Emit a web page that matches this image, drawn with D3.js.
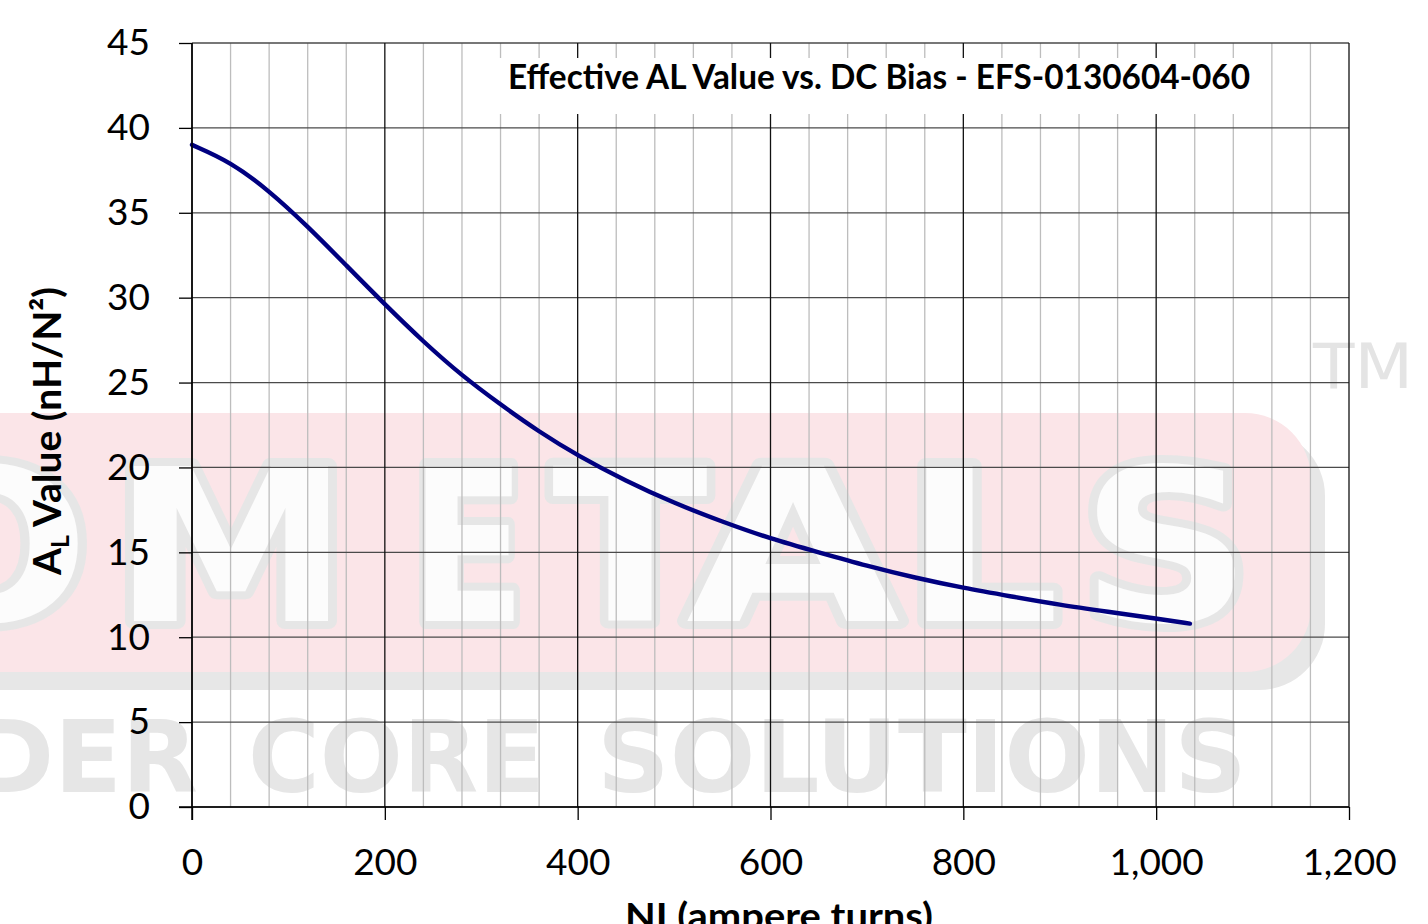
<!DOCTYPE html>
<html><head><meta charset="utf-8">
<script src="https://cdn.jsdelivr.net/npm/d3@7"></script>
<style>body{margin:0;background:#fff;overflow:hidden}</style>
</head><body><svg id="c" width="1428" height="924"></svg>
<script>
// ---- data ----
const niValues = [0, 40, 80, 120, 160, 200, 240, 280, 320, 360, 400, 450, 500, 550, 600, 650, 700, 750, 800, 850, 900, 950, 1000, 1035];
const alValues = [39.0, 38.0, 36.3, 34.2, 31.9, 29.6, 27.4, 25.4, 23.7, 22.1, 20.7, 19.2, 17.9, 16.8, 15.8, 15.0, 14.2, 13.5, 12.9, 12.4, 11.9, 11.5, 11.1, 10.8];
const xTickValues = [0, 200, 400, 600, 800, 1000, 1200];
const xMinorValues = d3.range(0, 1201, 40);
const yTickValues = [0, 5, 10, 15, 20, 25, 30, 35, 40, 45];
const titleText = "Effective AL Value vs. DC Bias - EFS-0130604-060";
const xLabelText = "NI (ampere turns)";
const yLabelMain = "A";
const yLabelSub = "L";
const yLabelRest = " Value (nH/N\u00B2)";
// watermark (background logo) pieces
const wmBigLetters = [
  {ch: "O", x0: -120, x1: 90},
  {ch: "M", x0: 112, x1: 350},
  {ch: "E", x0: 410, x1: 526},
  {ch: "T", x0: 552, x1: 708},
  {ch: "A", x0: 686, x1: 900},
  {ch: "L", x0: 904, x1: 1060},
  {ch: "S", x0: 1080, x1: 1252}
];
const wmWords = [
  {t: "DER", x0: -28, x1: 198},
  {t: "CORE", x0: 248, x1: 545},
  {t: "SOLUTIONS", x0: 597, x1: 1247}
];

const svg = d3.select("#c");
const x = d3.scaleLinear().domain([0, 1200]).range([192, 1349]);
const y = d3.scaleLinear().domain([0, 45]).range([807, 43]);

// ---- watermark ----
const wm = svg.append("g");
wm.append("rect").attr("x", -200).attr("y", 430).attr("width", 1525).attr("height", 260)
  .attr("rx", 66).attr("fill", "#e7e7e7");
wm.append("rect").attr("x", -200).attr("y", 413).attr("width", 1511).attr("height", 259)
  .attr("rx", 66).attr("fill", "#fbe5e8");
const bigFont = "'DejaVu Sans', sans-serif";
wmBigLetters.forEach(d => {
  [0, 1].forEach(pass => {
    wm.append("text").attr("x", d.x0).attr("y", 621)
      .attr("font-family", bigFont).attr("font-weight", "bold").attr("font-size", 213)
      .attr("textLength", d.x1 - d.x0).attr("lengthAdjust", "spacingAndGlyphs")
      .attr("fill", pass === 0 ? "#e6e6e6" : "#fcfcfc")
      .attr("stroke", pass === 0 ? "#e6e6e6" : "none")
      .attr("stroke-width", pass === 0 ? 16 : 0)
      .attr("stroke-linejoin", "round")
      .text(d.ch);
  });
});
wmWords.forEach(d => {
  wm.append("text").attr("x", d.x0).attr("y", 792)
    .attr("font-family", bigFont).attr("font-weight", "bold").attr("font-size", 99)
    .attr("textLength", d.x1 - d.x0).attr("lengthAdjust", "spacingAndGlyphs")
    .attr("fill", "#e6e6e6").text(d.t);
});
wm.append("text").attr("x", 1313).attr("y", 388)
  .attr("font-family", bigFont).attr("font-size", 63)
  .attr("textLength", 100).attr("lengthAdjust", "spacingAndGlyphs")
  .attr("fill", "#e4e4e4").text("TM");

// ---- grid ----
const grid = svg.append("g");
grid.selectAll("line.vmin").data(xMinorValues.filter(v => v % 200 !== 0)).enter().append("line")
  .attr("x1", d => x(d)).attr("x2", d => x(d)).attr("y1", y(0)).attr("y2", y(45))
  .attr("stroke", "#bdbdbd").attr("stroke-width", 1.3);
grid.selectAll("line.h").data(yTickValues).enter().append("line")
  .attr("x1", x(0)).attr("x2", x(1200)).attr("y1", d => y(d)).attr("y2", d => y(d))
  .attr("stroke", "#4a4a4a").attr("stroke-width", 1.3);
grid.selectAll("line.vmaj").data(xTickValues).enter().append("line")
  .attr("x1", d => x(d)).attr("x2", d => x(d)).attr("y1", y(0)).attr("y2", y(45))
  .attr("stroke", "#111").attr("stroke-width", 1.3);

// ---- title ----
svg.append("rect").attr("x", 497).attr("y", 58).attr("width", 766).attr("height", 56).attr("fill", "#fff");
svg.append("text").attr("x", 508).attr("y", 89)
  .attr("font-family", "Lato, sans-serif").attr("font-weight", "bold").attr("font-size", 34)
  .attr("textLength", 742).attr("lengthAdjust", "spacingAndGlyphs")
  .attr("fill", "#000").text(titleText);

// ---- curve ----
const pts = niValues.map((v, i) => [v, alValues[i]]);
svg.append("path").datum(pts)
  .attr("d", d3.line().x(d => x(d[0])).y(d => y(d[1])).curve(d3.curveBasis))
  .attr("fill", "none").attr("stroke", "#000080").attr("stroke-width", 4.4)
  .attr("stroke-linecap", "round");

// ---- axes ----
const fnt = "Lato, sans-serif";
const ax = svg.append("g").attr("transform", `translate(0,${y(0)})`)
  .call(d3.axisBottom(x).tickValues(xTickValues).tickFormat(d3.format(",")).tickSize(13).tickPadding(29));
const ay = svg.append("g").attr("transform", `translate(${x(0)},0)`)
  .call(d3.axisLeft(y).tickValues(yTickValues).tickFormat(d3.format("d")).tickSize(13).tickPadding(29));
[ax, ay].forEach(g => {
  g.select(".domain").remove();
  g.selectAll(".tick line").attr("stroke", "#000").attr("stroke-width", 1.3);
  g.selectAll(".tick text").attr("font-family", fnt).attr("font-size", 37).attr("fill", "#000");
});
svg.append("line").attr("x1", x(0)).attr("x2", x(0)).attr("y1", y(45)).attr("y2", y(0) + 13)
  .attr("stroke", "#000").attr("stroke-width", 1.5);
svg.append("line").attr("x1", x(0) - 13).attr("x2", x(1200)).attr("y1", y(0)).attr("y2", y(0))
  .attr("stroke", "#000").attr("stroke-width", 1.5);

// ---- axis labels ----
svg.append("text").attr("x", 625).attr("y", 929)
  .attr("font-family", fnt).attr("font-weight", "bold").attr("font-size", 36)
  .attr("textLength", 308).attr("lengthAdjust", "spacingAndGlyphs")
  .attr("fill", "#000").text(xLabelText);

const yl = svg.append("text").attr("transform", "translate(61,575) rotate(-90)")
  .attr("font-family", fnt).attr("font-weight", "bold").attr("font-size", 38).attr("fill", "#000");
yl.append("tspan").text(yLabelMain);
yl.append("tspan").attr("font-size", 24).attr("dy", 8).text(yLabelSub);
yl.append("tspan").attr("dy", -8).text(yLabelRest);
const len = yl.node().getComputedTextLength();
if (len > 0) {
  const s = 288 / len;
  yl.attr("font-size", 38 * s);
  yl.select("tspan:nth-child(2)").attr("font-size", 24 * s);
}
</script></body></html>
